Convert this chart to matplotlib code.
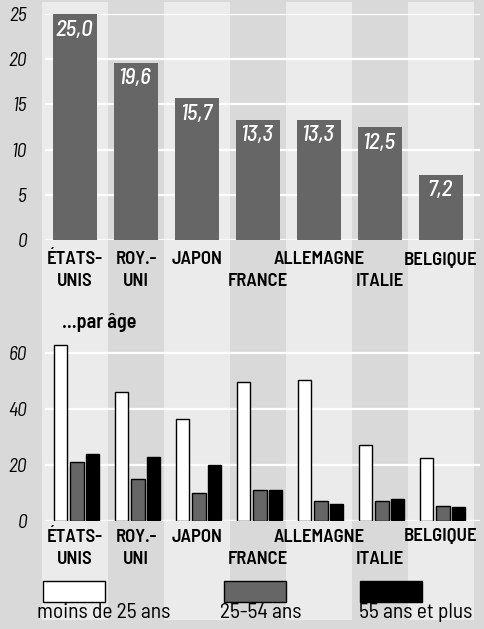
import matplotlib
matplotlib.use('Agg')
import matplotlib.pyplot as plt
from matplotlib.patches import Rectangle

plt.rcParams['font.family'] = ['Barlow Semi Condensed', 'DejaVu Sans']

# Données
pays = ['ÉTATS-\nUNIS', 'ROY.-\nUNI', 'JAPON', '\nFRANCE', 'ALLEMAGNE', '\nITALIE', 'BELGIQUE']
total = [25.0, 19.6, 15.7, 13.3, 13.3, 12.5, 7.2]
moins25 = [63, 46, 36.5, 49.5, 50.5, 27, 22.5]
age25_54 = [21, 15, 10, 11, 7, 7, 5.5]
plus55 = [24, 23, 20, 11, 6, 8, 5]
legende = ['moins de 25 ans', '25-54 ans', '55 ans et plus']
ticks_haut = [0, 5, 10, 15, 20, 25]
ticks_bas = [0, 20, 40, 60]

fond = '#d9d9d9'
clair = '#ebebeb'
barre = '#666666'

W, H = 484, 629
px = 61.0   # pixels par catégorie
x0 = 75.0   # centre de la première barre (px)

fig = plt.figure(figsize=(W/100, H/100), dpi=100, facecolor=fond)

# axe de fond en pixels pour les bandes et les libellés
bg = fig.add_axes([0, 0, 1, 1], zorder=0)
bg.set_xlim(-x0/px, (W - x0)/px)
bg.set_ylim(H, 0)
bg.axis('off')
for i in range(0, len(pays), 2):
    bg.add_patch(Rectangle((i - 0.533, 2), 1.066, 618, color=clair, lw=0))

def fx(p):
    return (p - x0)/px

def axe(top, bottom, ymax, ticks):
    a = fig.add_axes([45/W, (H - bottom)/H, 435/W, (bottom - top)/H], zorder=1)
    a.set_facecolor('none')
    a.set_xlim(fx(45), fx(480))
    a.set_ylim(0, ymax)
    for s in a.spines.values():
        s.set_visible(False)
    a.set_xticks([])
    a.set_yticks(ticks)
    a.set_yticklabels([str(t) for t in ticks], fontsize=14, style='italic')
    a.tick_params(length=0, pad=13)
    for t in ticks:
        a.axhline(t, color='white', lw=1.6, zorder=0)
    a.axhline(0, color='#b5b5b5', lw=0.8, zorder=0)
    return a

def noms_pays(y):
    # une ligne de texte par ligne de libellé
    for i, p in enumerate(pays):
        for j, ligne in enumerate(p.split('\n')):
            if ligne:
                bg.text(i, y + 22*j, ligne, ha='center', va='center',
                        fontsize=13.5, fontweight='semibold')

xs = list(range(len(pays)))

# Graphique du haut : total
ax1 = axe(14, 240, 25, ticks_haut)
ax1.bar(xs, total, width=44/px, color=barre, zorder=2)
for x, v in zip(xs, total):
    ax1.annotate(('%.1f' % v).replace('.', ','), (x, v), xytext=(-1, -4),
                 textcoords='offset points', ha='center', va='top',
                 color='white', fontsize=16.5, style='italic',
                 fontweight='medium', zorder=3)

noms_pays(260)

bg.text(fx(62), 322, '...par âge', ha='left', va='center', fontsize=14.5,
        fontweight='semibold')

# Graphique du bas : par âge
ax2 = axe(339, 521, 65, ticks_bas)
w = 13.6/px
ax2.bar([x - 0.24 for x in xs], moins25, width=w, color='white',
        edgecolor='black', lw=1, zorder=2)
ax2.bar([x + 0.03 for x in xs], age25_54, width=w, color=barre,
        edgecolor='black', lw=1, zorder=2)
ax2.bar([x + 0.29 for x in xs], plus55, width=w, color='black',
        edgecolor='black', lw=1, zorder=2)

noms_pays(537)

# Légende
couleurs = ['white', barre, 'black']
rect_x = [43, 224, 360]
text_x = [37, 220, 359]
for c, rx, tx, lab in zip(couleurs, rect_x, text_x, legende):
    bg.add_patch(Rectangle((fx(rx), 581), 62/px, 21, facecolor=c,
                           edgecolor='black', lw=1))
    bg.text(fx(tx), 613, lab, ha='left', va='center', fontsize=15.5,
            color='black')

fig.savefig('out.png', dpi=100, facecolor=fond)
